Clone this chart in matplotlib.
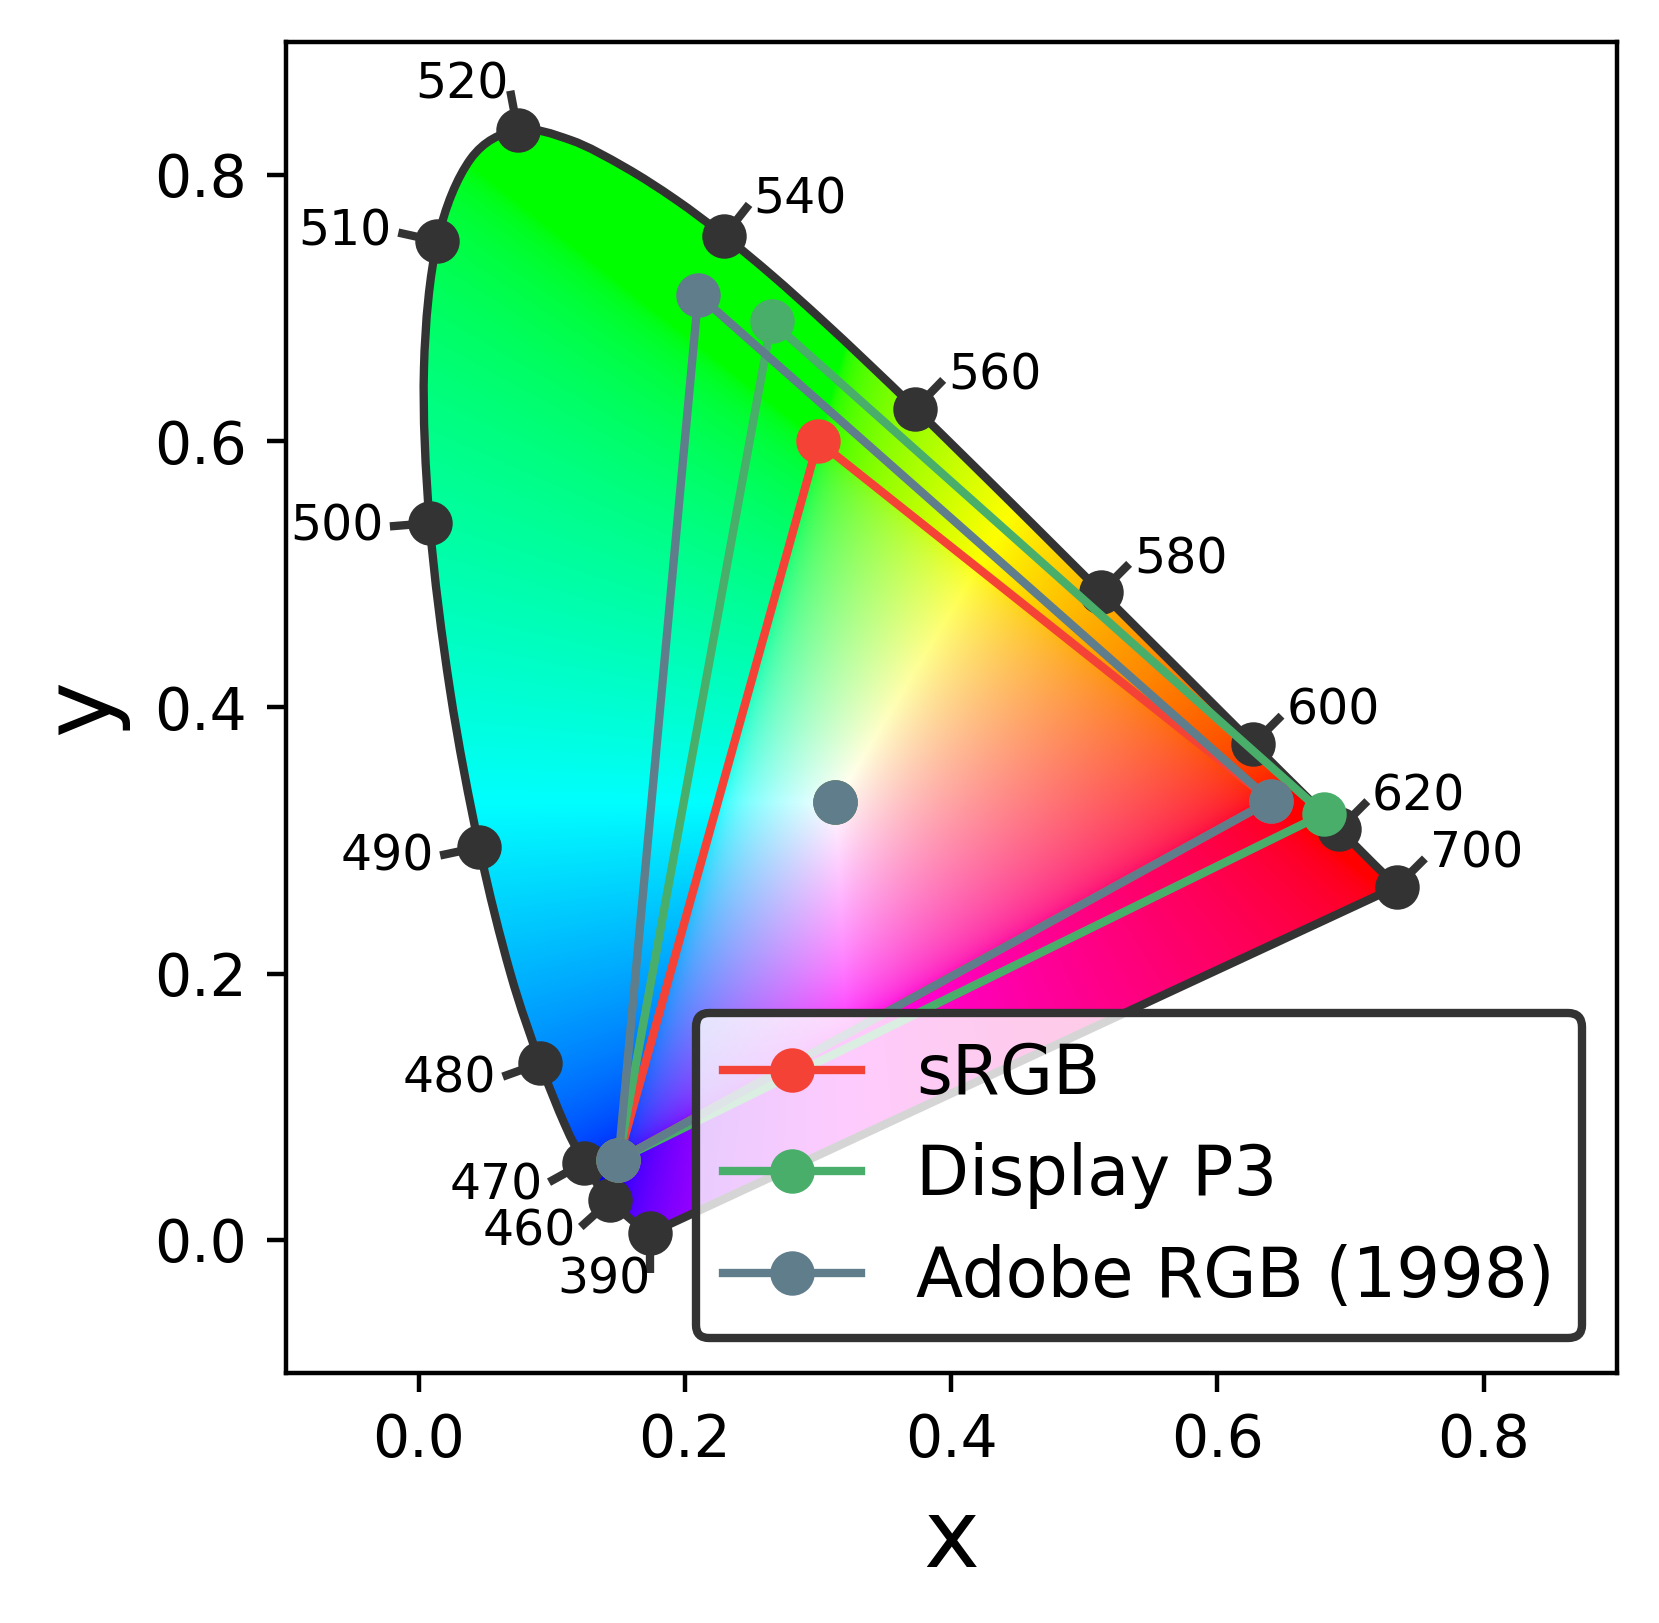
import numpy as np
import matplotlib
matplotlib.use("Agg")
import matplotlib.pyplot as plt
from matplotlib.patches import PathPatch
from matplotlib.path import Path

# CIE 1931 spectral locus (390-700 nm, 5 nm steps)
wavelengths = [390, 395, 400, 405, 410, 415, 420, 425, 430, 435, 440, 445, 450,
               455, 460, 465, 470, 475, 480, 485, 490, 495, 500, 505, 510, 515,
               520, 525, 530, 535, 540, 545, 550, 555, 560, 565, 570, 575, 580,
               585, 590, 595, 600, 605, 610, 615, 620, 625, 630, 635, 640, 645,
               650, 655, 660, 665, 670, 675, 680, 685, 690, 695, 700]
locus_x = [0.1738, 0.1736, 0.1733, 0.1730, 0.1726, 0.1721, 0.1714, 0.1703, 0.1689,
           0.1669, 0.1644, 0.1611, 0.1566, 0.1510, 0.1440, 0.1355, 0.1241, 0.1096,
           0.0913, 0.0687, 0.0454, 0.0235, 0.0082, 0.0039, 0.0139, 0.0389, 0.0743,
           0.1142, 0.1547, 0.1929, 0.2296, 0.2658, 0.3016, 0.3373, 0.3731, 0.4087,
           0.4441, 0.4788, 0.5125, 0.5448, 0.5752, 0.6029, 0.6270, 0.6482, 0.6658,
           0.6801, 0.6915, 0.7006, 0.7079, 0.7140, 0.7190, 0.7230, 0.7260, 0.7283,
           0.7300, 0.7311, 0.7320, 0.7327, 0.7334, 0.7340, 0.7344, 0.7346, 0.7347]
locus_y = [0.0049, 0.0049, 0.0048, 0.0048, 0.0048, 0.0048, 0.0051, 0.0058, 0.0069,
           0.0086, 0.0109, 0.0138, 0.0177, 0.0227, 0.0297, 0.0399, 0.0578, 0.0868,
           0.1327, 0.2007, 0.2950, 0.4127, 0.5384, 0.6548, 0.7502, 0.8120, 0.8338,
           0.8262, 0.8059, 0.7816, 0.7543, 0.7243, 0.6923, 0.6589, 0.6245, 0.5896,
           0.5547, 0.5202, 0.4866, 0.4544, 0.4242, 0.3965, 0.3725, 0.3514, 0.3340,
           0.3197, 0.3083, 0.2993, 0.2920, 0.2859, 0.2809, 0.2770, 0.2740, 0.2717,
           0.2700, 0.2689, 0.2680, 0.2673, 0.2666, 0.2660, 0.2656, 0.2654, 0.2653]
labeled_wavelengths = [390, 460, 470, 480, 490, 500, 510, 520, 540, 560, 580, 600, 620, 700]

gamut_names = ["sRGB", "Display P3", "Adobe RGB (1998)"]
gamut_x = [[0.64, 0.30, 0.15], [0.68, 0.265, 0.15], [0.64, 0.21, 0.15]]
gamut_y = [[0.33, 0.60, 0.06], [0.32, 0.69, 0.06], [0.33, 0.71, 0.06]]
gamut_colors = ["#F44336", "#4AAE6B", "#607D8B"]
white_x, white_y = 0.3127, 0.3290

locus_color = "#333333"

fig = plt.figure(figsize=(1659 / 400, 1623 / 400), dpi=400)
ax = fig.add_axes([0.1722, 0.1538, 0.8023, 0.8207])
ax.set_xlim(-0.1, 0.9)
ax.set_ylim(-0.1, 0.9)

# colour field
res = 700
gx = np.linspace(-0.1, 0.9, res)
gy = np.linspace(-0.1, 0.9, res)
GX, GY = np.meshgrid(gx, gy)
Ys = np.where(GY > 1e-3, GY, 1e-3)
XYZ = np.stack([GX / Ys, np.ones_like(GX), (1 - GX - GY) / Ys], axis=-1)
M = np.array([[3.2406, -1.5372, -0.4986],
              [-0.9689, 1.8758, 0.0415],
              [0.0557, -0.2040, 1.0570]])
rgb = XYZ @ M.T
rgb = np.clip(rgb, 0, None)
rgb = rgb / np.maximum(rgb.max(axis=-1, keepdims=True), 1e-9)
rgb = np.where(rgb <= 0.0031308, 12.92 * rgb, 1.055 * np.power(rgb, 1 / 2.4) - 0.055)
rgb = np.clip(rgb, 0, 1)

lx = np.array(locus_x)
ly = np.array(locus_y)
pts = np.column_stack([lx, ly])
npts = len(pts)
verts = [pts[0]]
codes = [Path.MOVETO]
for i in range(npts - 1):
    p0 = pts[max(i - 1, 0)]
    p1 = pts[i]
    p2 = pts[i + 1]
    p3 = pts[min(i + 2, npts - 1)]
    verts += [p1 + (p2 - p0) / 6, p2 - (p3 - p1) / 6, p2]
    codes += [Path.CURVE4] * 3
verts += [pts[0], pts[0]]
codes += [Path.LINETO, Path.CLOSEPOLY]
locus_path = Path(np.array(verts), codes)

poly = PathPatch(locus_path, facecolor="none", edgecolor=locus_color,
                 linewidth=1.5, zorder=3)
ax.add_patch(poly)
im = ax.imshow(rgb, extent=(-0.1, 0.9, -0.1, 0.9), origin="lower",
               interpolation="bilinear", zorder=1)
im.set_clip_path(poly)

# wavelength ticks + labels
dx = np.gradient(lx)
dy = np.gradient(ly)
for wl in labeled_wavelengths:
    i = wavelengths.index(wl)
    nx, ny = -dy[i], dx[i]
    n = np.hypot(nx, ny)
    nx, ny = nx / n, ny / n
    px, py = lx[i], ly[i]
    ax.plot([px, px + 0.03 * nx], [py, py + 0.03 * ny], color=locus_color,
            linewidth=1.5, zorder=4, solid_capstyle="butt")
    ax.plot(px, py, "o", color=locus_color, markersize=7, zorder=5)
    ax.text(px + 0.035 * nx, py + 0.035 * ny, str(wl), fontsize=8.8,
            ha="left" if nx > 0.1 else "right", va="center", zorder=6)

# gamuts
for name, xs, ys, c in zip(gamut_names, gamut_x, gamut_y, gamut_colors):
    ax.plot(xs + [xs[0]], ys + [ys[0]], "-", color=c, linewidth=1.5, zorder=7)
    ax.plot(xs, ys, "o", color=c, markersize=7, zorder=8)
    ax.plot([], [], "-o", color=c, linewidth=1.5, markersize=7, label=name)
    ax.plot(white_x, white_y, "o", color=c, markersize=7, zorder=8)

ax.set_xticks([0.0, 0.2, 0.4, 0.6, 0.8])
ax.set_yticks([0.0, 0.2, 0.4, 0.6, 0.8])
ax.tick_params(labelsize=10.5)
ax.set_xlabel("x", fontsize=17, labelpad=4.7)
ax.set_ylabel("y", fontsize=17, labelpad=4.7)

leg = ax.legend(loc="lower right", fontsize=12.4, framealpha=None)
frame = leg.get_frame()
frame.set_alpha(None)
frame.set_facecolor((1, 1, 1, 0.8))
frame.set_edgecolor("#333333")
frame.set_linewidth(1.5)
leg.set_zorder(10)

fig.savefig("out.png", dpi=400)
